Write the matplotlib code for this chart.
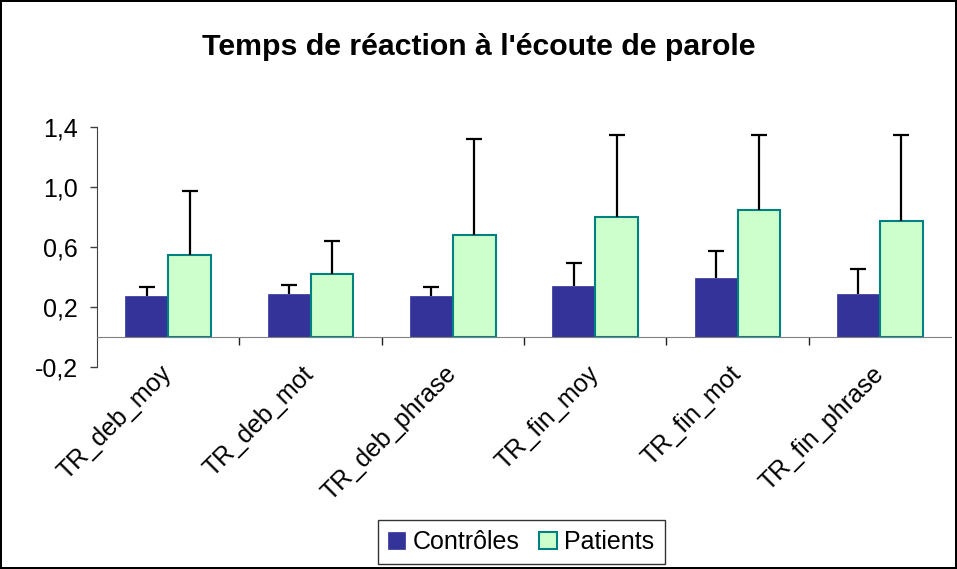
import numpy as np
import matplotlib
matplotlib.use("Agg")
import matplotlib.pyplot as plt

plt.rcParams['font.family'] = ['Liberation Sans', 'DejaVu Sans']

categories = ["TR_deb_moy", "TR_deb_mot", "TR_deb_phrase",
              "TR_fin_moy", "TR_fin_mot", "TR_fin_phrase"]
controles = [0.27, 0.285, 0.27, 0.338, 0.389, 0.285]
controles_err = [0.062, 0.062, 0.062, 0.153, 0.184, 0.166]
patients = [0.547, 0.416, 0.678, 0.80, 0.843, 0.771]
patients_err = [0.426, 0.224, 0.642, 0.547, 0.504, 0.576]
yticks = [-0.2, 0.2, 0.6, 1.0, 1.4]

fig = plt.figure(figsize=(9.57, 5.69), dpi=100, edgecolor="black", linewidth=1.5)
ax = fig.add_axes([97/957, 1 - 366.7/569, (951 - 97)/957, (366.7 - 126.7)/569])

x = np.arange(len(categories))
w = 0.3
ekw = dict(elinewidth=1.6, capthick=1.6, ecolor="black")
b1 = ax.bar(x - w/2, controles, w, color="#333399", edgecolor="#333399", linewidth=0.5,
            yerr=[np.zeros(len(x)), controles_err], capsize=5.5, error_kw=ekw,
            label="Contrôles", zorder=2)
b2 = ax.bar(x + w/2, patients, w, color="#CCFFCC", edgecolor="#008080", linewidth=1.5,
            yerr=[np.zeros(len(x)), patients_err], capsize=5.5, error_kw=ekw,
            label="Patients", zorder=2)
# only the upper caps are wanted
for b in (b1, b2):
    caps = b.errorbar.lines[1]
    caps[0].set_visible(False)

ax.set_xlim(-0.5, len(x) - 0.5)
ax.set_ylim(-0.2, 1.4)

# y axis with comma decimals
ax.set_yticks(yticks)
ax.set_yticklabels([f"{v:.1f}".replace(".", ",") for v in yticks])
ax.tick_params(axis="y", length=5, width=1, color="#404040", pad=9, labelsize=18)

# x axis line at zero, ticks between categories, labels below the plot
ax.spines["bottom"].set_position(("data", 0))
ax.spines["bottom"].set_color("#808080")
ax.spines["left"].set_color("#404040")
ax.spines["top"].set_visible(False)
ax.spines["right"].set_visible(False)
ax.set_xticks(np.arange(0.5, len(x) - 0.5, 1))
ax.set_xticklabels([])
ax.tick_params(axis="x", which="major", length=6, width=1, color="#202020")
ax.set_xticks(x, categories, minor=True)
ax.tick_params(axis="x", which="minor", length=0, pad=24, labelsize=18)
for lab in ax.get_xticklabels(minor=True):
    lab.set_rotation(45)
    lab.set_ha("right")
    lab.set_va("center")
    lab.set_rotation_mode("anchor")

fig.suptitle("Temps de réaction à l'écoute de parole", x=0.5, y=0.917,
             va="center", fontsize=21.8, fontweight="bold")

leg = fig.legend(loc="center", bbox_to_anchor=(521/957, 1 - 542/569), ncol=2,
                 fontsize=18, frameon=True, fancybox=False, edgecolor="black",
                 handlelength=0.7, handleheight=0.7, handletextpad=0.3,
                 columnspacing=0.8, borderpad=0.4)
leg.get_frame().set_linewidth(1)

fig.savefig("out.png", dpi=100, edgecolor=fig.get_edgecolor())
